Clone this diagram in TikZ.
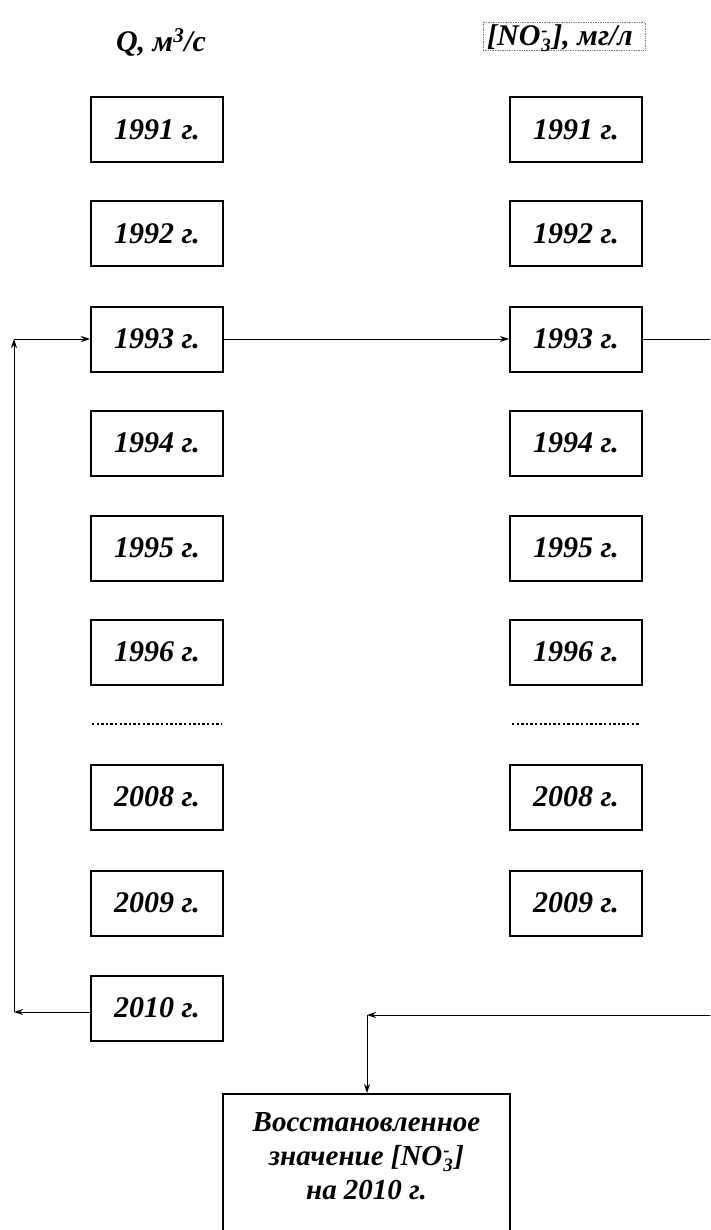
\documentclass[tikz,border=0pt]{standalone}
\usepackage{fontspec}
\setmainfont{Liberation Serif}
\usetikzlibrary{arrows.meta}
\newcommand{\nothree}{NO\kern1pt$_{\mbox{\fontsize{19}{19}\selectfont\bfseries\itshape 3}}^{\mbox{\fontsize{19}{19}\selectfont\bfseries -}}$\kern1pt}
\begin{document}
\begin{tikzpicture}[x=1pt,y=-1pt,
  yearbox/.style={draw,line width=2pt,minimum width=132pt,minimum height=65pt,inner sep=0pt,font=\fontsize{30}{34}\selectfont\bfseries\itshape},
  conn/.style={line width=0.9pt,-{Stealth[length=9pt,width=6pt]}},
  plain/.style={line width=0.9pt},
  hdr/.style={font=\fontsize{30}{34}\selectfont\bfseries\itshape,inner sep=1pt}]
\useasboundingbox (0,0) rectangle (710,1230);
\clip (0,0) rectangle (710,1230);
% headers
\node[hdr] (hq) at (161,42) {Q, м\textsuperscript{3}/с};
\node[draw=gray,densely dotted,line width=0.7pt,minimum width=162pt,minimum height=28pt,inner sep=0pt] (hn) at (564,36) {};
\node[hdr] (hntext) at (560,38) {[\nothree], мг/л};
% left column
\foreach \yy/\lab/\nm in {130/1991/L1,234/1992/L2,339/1993/L3,443/1994/L4,548/1995/L5,652/1996/L6,797/2008/L8,903/2009/L9,1008/2010/L10}{
  \node[yearbox] (\nm) at (157,\yy) {\lab\ г.};
}
\foreach \yy/\lab/\nm in {130/1991/R1,234/1992/R2,339/1993/R3,443/1994/R4,548/1995/R5,652/1996/R6,797/2008/R8,903/2009/R9}{
  \node[yearbox] (\nm) at (576,\yy) {\lab\ г.};
}
% dotted separators
\coordinate (dl1) at (92,724); \coordinate (dl2) at (222,724);
\coordinate (dr1) at (512,724); \coordinate (dr2) at (640,724);
\draw[line width=2pt,dash pattern=on 2.4pt off 2.2pt] (dl1) -- (dl2);
\draw[line width=2pt,dash pattern=on 2.4pt off 2.2pt] (dr1) -- (dr2);
% result box
\node[draw,line width=2pt,minimum width=287pt,minimum height=170pt,anchor=north,inner sep=0pt] (res) at (366.5,1093) {};
\node[font=\fontsize{29}{34}\selectfont\bfseries\itshape,align=center,anchor=north] (restext) at (366.5,1109)
  {Восстановленное\\значение [\nothree]\\на 2010 г.};
% connectors
\coordinate (lc1) at (14,1012);
\coordinate (lc2) at (14,339);
\draw[conn] (L10.west |- lc1) -- (lc1);
\draw[conn] (lc1) -- (lc2);
\draw[conn] (lc2) -- (L3.west);
\draw[conn] (L3.east) -- (R3.west);
\coordinate (rc1) at (720,339);
\coordinate (rc2) at (720,1015);
\coordinate (rc3) at (367,1015);
\draw[plain] (R3.east) -- (rc1) -- (rc2);
\draw[conn] (rc2) -- (rc3);
\draw[conn] (rc3) -- (res.north -| rc3);
\end{tikzpicture}
\end{document}
